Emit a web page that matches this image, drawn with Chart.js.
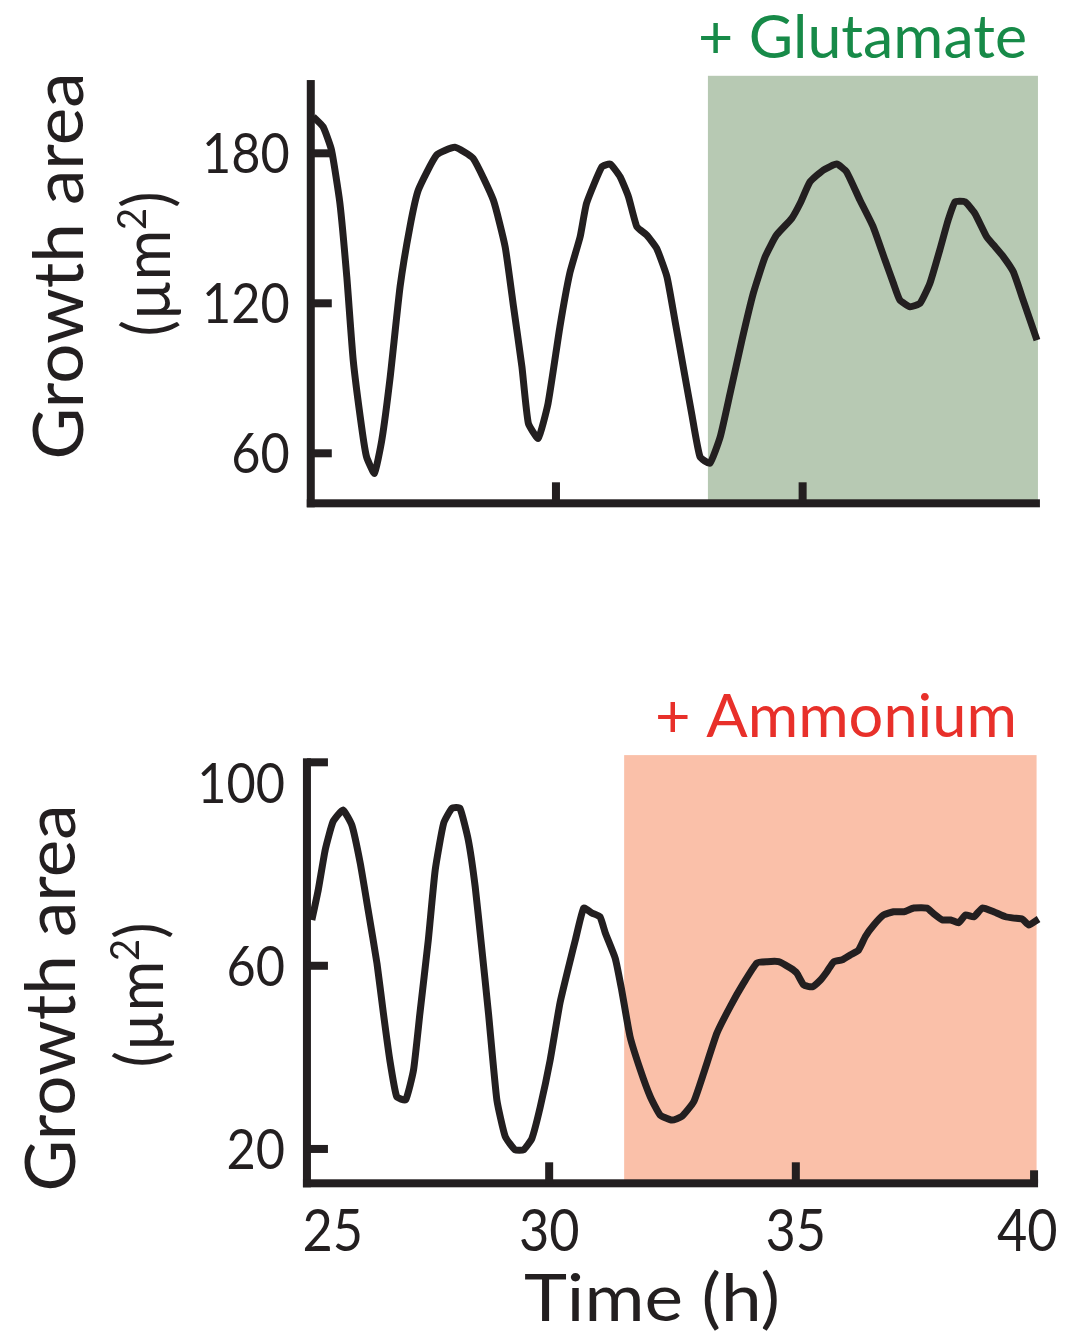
<!DOCTYPE html>
<html>
<head>
<meta charset="utf-8">
<script src="https://cdn.jsdelivr.net/npm/chart.js@4.4.1/dist/chart.umd.min.js"></script>
<style>
  html, body { margin: 0; padding: 0; background: #fff; }
  #wrap { position: relative; width: 1079px; height: 1336px; }
  canvas { position: absolute; left: 0; }
  #glutamateChart { top: 0; }
  #ammoniumChart { top: 560px; }
</style>
</head>
<body>
<div id="wrap">
  <canvas id="glutamateChart" width="1079" height="560"></canvas>
  <canvas id="ammoniumChart" width="1079" height="776"></canvas>
</div>
<script>
// growth area (µm²) over time (h), glutamate panel
const glutamateHours = [25.08, 25.28, 25.45, 25.62, 25.76, 25.89, 26.06, 26.16, 26.32, 26.47, 26.64, 26.84,
  27.04, 27.21, 27.58, 27.95, 28.32, 28.73, 28.97, 29.14, 29.31, 29.44, 29.64, 29.84, 30.08, 30.28, 30.49,
  30.62, 30.93, 31.10, 31.30, 31.47, 31.64, 31.84, 32.04, 32.25, 32.41, 32.58, 32.75, 32.92, 33.12, 33.33,
  33.53, 33.77, 34.00, 34.24, 34.47, 34.78, 34.95, 35.15, 35.42, 35.69, 35.89, 36.16, 36.43, 36.67, 36.84,
  36.97, 37.18, 37.38, 37.58, 37.78, 37.95, 38.09, 38.29, 38.49, 38.73, 38.87, 39.07, 39.27, 39.47, 39.75];
const glutamateArea = [194.6, 190.6, 181.3, 160.1, 130.6, 97.3, 70.6, 58.6, 52.0, 65.3, 90.6, 126.6,
  150.6, 165.3, 179.3, 182.4, 178.0, 161.3, 142.6, 118.6, 94.6, 72.0, 66.0, 80.0, 110.6, 132.0, 146.6,
  160.0, 174.6, 175.7, 170.6, 162.6, 150.6, 147.3, 142.0, 130.6, 113.3, 94.6, 76.0, 58.6, 56.0, 66.6,
  84.0, 105.3, 124.0, 138.6, 147.3, 154.0, 160.0, 168.6, 173.3, 175.7, 172.6, 161.3, 150.6, 137.3, 128.0,
  121.3, 118.6, 120.0, 128.0, 141.3, 153.3, 160.6, 160.6, 156.0, 146.6, 143.3, 138.6, 132.6, 121.3, 105.3];

// ammonium panel
const ammoniumHours = [25.19, 25.32, 25.46, 25.62, 25.82, 26.00, 26.17, 26.33, 26.51, 26.64, 26.77, 26.91,
  27.09, 27.25, 27.38, 27.55, 27.69, 27.86, 28.03, 28.19, 28.36, 28.50, 28.63, 28.77, 28.94, 29.11, 29.31,
  29.48, 29.65, 29.82, 30.02, 30.22, 30.43, 30.53, 30.70, 30.87, 31.03, 31.14, 31.34, 31.47, 31.64, 31.85,
  32.05, 32.25, 32.49, 32.69, 32.93, 33.13, 33.40, 33.67, 33.94, 34.21, 34.42, 34.65, 34.89, 35.02, 35.16,
  35.33, 35.50, 35.63, 35.77, 35.94, 36.11, 36.27, 36.41, 36.58, 36.78, 36.98, 37.19, 37.39, 37.66, 37.80,
  37.97, 38.14, 38.30, 38.44, 38.61, 38.78, 39.01, 39.25, 39.42, 39.59, 39.72, 39.92];
const ammoniumArea = [70.0, 76.6, 85.3, 91.5, 94.0, 90.7, 82.4, 72.2, 60.5, 49.6, 39.4, 31.4,
  30.7, 37.2, 49.6, 65.6, 80.9, 91.1, 94.4, 94.4, 87.5, 77.3, 64.2, 49.6, 30.7, 22.7, 19.8,
  19.8, 22.3, 29.2, 39.4, 51.9, 61.3, 65.6, 72.6, 71.5, 70.7, 67.1, 61.6, 54.7, 44.5, 37.2,
  31.4, 27.4, 26.3, 27.1, 30.3, 36.5, 45.3, 51.1, 56.2, 60.6, 60.9, 60.9, 59.5, 58.4, 55.8,
  55.4, 56.9, 58.7, 60.9, 61.3, 62.4, 63.4, 66.4, 68.9, 71.1, 71.8, 71.8, 72.6, 72.6, 71.3,
  70.0, 70.0, 69.4, 71.1, 70.7, 72.6, 71.8, 70.7, 70.4, 70.2, 68.9, 70.2];

const glutamateTicks = [60, 120, 180];
const ammoniumTicks = [20, 60, 100];
const timeTicks = [25, 30, 35, 40];

// treatment windows (h)
const glutamateWindow = [33.08, 39.77];
const ammoniumWindow = [31.52, 39.88];

const INK = '#231f20';
const FONT = 'Lato, "Open Sans", sans-serif';

// plain text, optionally rotated, squeezed to a given width
function text(ctx, str, x, y, o) {
  ctx.save();
  ctx.font = o.size + 'px ' + FONT;
  ctx.fillStyle = o.color || INK;
  ctx.textBaseline = 'alphabetic';
  ctx.textAlign = 'left';
  const w = ctx.measureText(str).width;
  const sx = o.width ? o.width / w : (o.squeeze || 1);
  ctx.translate(x, y);
  if (o.rotate) ctx.rotate(-Math.PI / 2);
  ctx.scale(sx, 1);
  let dx = 0;
  if (o.align === 'center') dx = -w / 2;
  else if (o.align === 'right') dx = -w;
  ctx.fillText(str, dx, 0);
  ctx.restore();
}

// "(µm²)" with a raised 2, rotated
function unitText(ctx, x, y, size, width) {
  const parts = [['(µm', size, 0], ['2', size * 0.62, -size * 0.36], [')', size, 0]];
  ctx.save();
  let total = 0;
  parts.forEach(p => {
    ctx.font = p[1] + 'px ' + FONT;
    p.push(ctx.measureText(p[0]).width);
    total += p[3];
  });
  ctx.translate(x, y);
  ctx.rotate(-Math.PI / 2);
  ctx.scale(width / total, 1);
  ctx.fillStyle = INK;
  ctx.textBaseline = 'alphabetic';
  ctx.textAlign = 'left';
  let cx = -total / 2;
  parts.forEach(p => {
    ctx.font = p[1] + 'px ' + FONT;
    ctx.fillText(p[0], cx, p[2]);
    cx += p[3];
  });
  ctx.restore();
}

// shaded window, axes with inward ticks, labels
const panel = {
  id: 'panel',
  beforeDatasetsDraw(chart, args, o) {
    const { ctx } = chart;
    const xs = chart.scales.x, ys = chart.scales.y;
    const px = v => xs.getPixelForValue(v);
    const py = v => ys.getPixelForValue(v);
    const lw = 8;

    ctx.save();
    ctx.fillStyle = o.shade;
    const l = px(o.window[0]), r = px(o.window[1]);
    ctx.fillRect(l, py(ys.max), r - l, py(ys.min) - py(ys.max));

    ctx.fillStyle = INK;
    const ax = px(o.axisFrom), ay = py(ys.min);
    const yTop = py(o.axisTop), xEnd = px(o.axisTo);
    ctx.fillRect(ax - lw / 2, yTop, lw, ay - yTop + lw / 2);
    ctx.fillRect(ax - lw / 2, ay - lw / 2, xEnd - ax + lw / 2, lw);
    o.yTicks.forEach(v => ctx.fillRect(ax, py(v) - lw / 2, o.tickLen, lw));
    o.xTicks.forEach(v => ctx.fillRect(px(v) - lw / 2, ay - o.tickLen, lw, o.tickLen));
    if (o.capTop) ctx.fillRect(ax, yTop, o.tickLen, lw);
    if (o.capRight) ctx.fillRect(xEnd - lw, ay - o.capRight, lw, o.capRight);
    ctx.restore();
  },
  afterDraw(chart, args, o) {
    const { ctx } = chart;
    const xs = chart.scales.x, ys = chart.scales.y;
    const px = v => xs.getPixelForValue(v);
    const py = v => ys.getPixelForValue(v);
    const ax = px(o.axisFrom);

    o.yLabels.forEach(v => {
      text(ctx, String(v), ax - o.labelGap, py(v) + 20, { size: 56, squeeze: 0.9, align: 'right' });
    });

    if (o.xLabels) {
      const last = o.xLabels.length - 1;
      o.xLabels.forEach((v, i) => {
        let align = 'center', x = px(v);
        if (i === 0) align = 'left';
        if (i === last) { align = 'right'; x += 15; }
        text(ctx, String(v), x, o.xLabelBase, { size: 58, squeeze: 0.9, align });
      });
      text(ctx, 'Time (h)', o.xTitle[0], o.xTitle[1], { size: 66, width: 256, align: 'center' });
    }

    text(ctx, 'Growth area', o.yTitle[0], o.yTitle[1], { size: 70, width: 387, align: 'center', rotate: true });
    unitText(ctx, o.unit[0], o.unit[1], 66, 145);

    text(ctx, o.note, o.notePos[0], o.notePos[1],
      { size: 60, width: o.noteWidth, align: 'right', color: o.noteColor });
  }
};

function buildChart(id, hours, area, yMin, yMax, padding, panelOpts) {
  return new Chart(document.getElementById(id), {
    type: 'line',
    data: {
      datasets: [{
        data: hours.map((h, i) => ({ x: h, y: area[i] })),
        borderColor: INK,
        borderWidth: 7,
        pointRadius: 0,
        tension: 0.15,
        borderJoinStyle: 'round',
        borderCapStyle: 'butt',
        clip: false
      }]
    },
    options: {
      responsive: false,
      animation: false,
      events: [],
      layout: { padding },
      scales: {
        x: { type: 'linear', min: 25, max: 40, display: false },
        y: { type: 'linear', min: yMin, max: yMax, display: false }
      },
      plugins: {
        legend: { display: false },
        tooltip: { enabled: false },
        panel: panelOpts
      }
    },
    plugins: [panel]
  });
}

function draw() {
  buildChart('glutamateChart', glutamateHours, glutamateArea, 40, 211,
    { left: 309.3, right: 29.7, top: 75.8, bottom: 56.7 },
    {
      shade: '#b7c9b3',
      window: glutamateWindow,
      axisFrom: 25.03, axisTo: 39.81, axisTop: 209.3,
      yTicks: glutamateTicks, xTicks: [30, 35], tickLen: 21,
      yLabels: glutamateTicks, labelGap: 21,
      yTitle: [83, 266], unit: [170, 264],
      note: '+ Glutamate', notePos: [1027, 58], noteWidth: 329, noteColor: '#178a48'
    });

  buildChart('ammoniumChart', ammoniumHours, ammoniumArea, 12.5, 106,
    { left: 302.5, right: 36.5, top: 195.1, bottom: 152.7 },
    {
      shade: '#fac0a9',
      window: ammoniumWindow,
      axisFrom: 25.09, axisTo: 39.91, axisTop: 105.3,
      yTicks: ammoniumTicks.slice(0, 2), xTicks: [30, 35], tickLen: 21,
      capTop: true, capRight: 13,
      yLabels: ammoniumTicks, labelGap: 22,
      xLabels: timeTicks, xLabelBase: 691, xTitle: [652, 761],
      yTitle: [75, 438], unit: [163, 435],
      note: '+ Ammonium', notePos: [1017, 177], noteWidth: 362, noteColor: '#e8302a'
    });
}

if (document.fonts && document.fonts.load) {
  Promise.all([document.fonts.load('56px Lato')]).then(draw, draw);
} else {
  draw();
}
</script>
</body>
</html>
